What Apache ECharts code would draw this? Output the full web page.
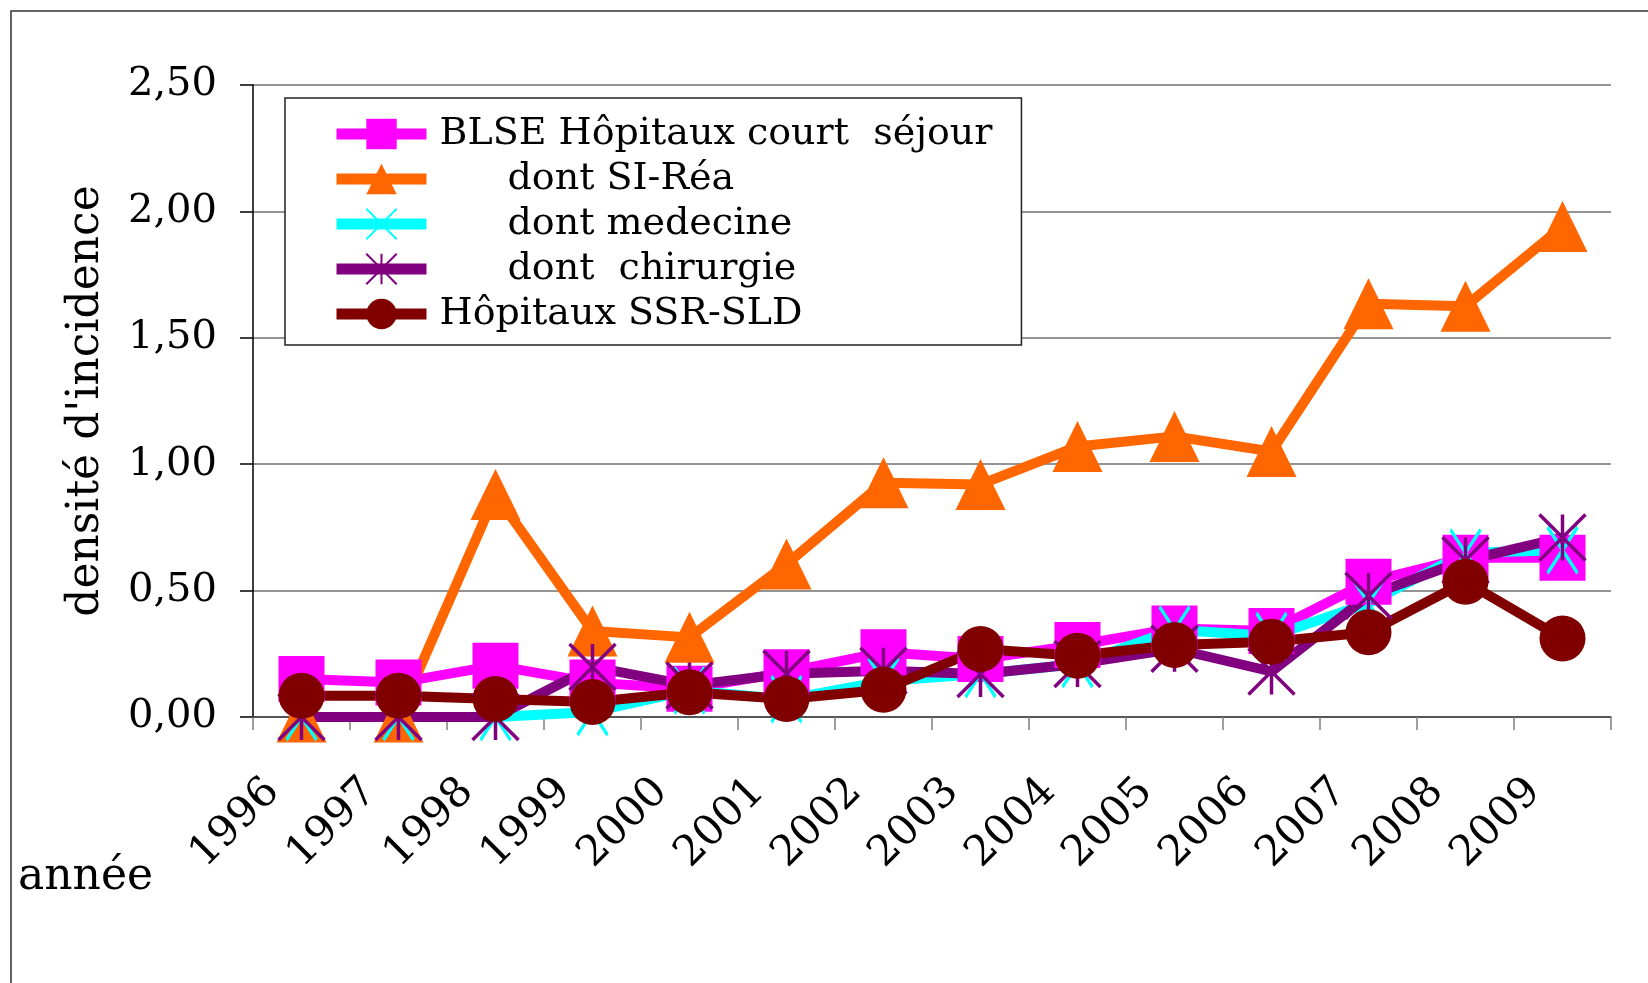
<!DOCTYPE html>
<html>
<head>
<meta charset="utf-8">
<script src="https://cdn.jsdelivr.net/npm/echarts@6/dist/echarts.min.js"></script>
<style>
  html, body { margin: 0; padding: 0; background: #fff; }
  #main { width: 1648px; height: 983px; }
</style>
</head>
<body>
<div id="main"></div>
<script type="text/javascript">
  // données
  var annees = ['1996', '1997', '1998', '1999', '2000', '2001', '2002', '2003', '2004', '2005', '2006', '2007', '2008', '2009'];
  var blseCourtSejour = [0.15, 0.136, 0.203, 0.136, 0.112, 0.177, 0.256, 0.229, 0.285, 0.35, 0.34, 0.535, 0.63, 0.63];
  var siRea = [0, 0, 0.88, 0.34, 0.315, 0.605, 0.927, 0.92, 1.07, 1.11, 1.05, 1.635, 1.625, 1.94];
  var medecine = [0, 0, 0, 0.02, 0.105, 0.07, 0.142, 0.17, 0.21, 0.345, 0.32, 0.45, 0.65, 0.66];
  var chirurgie = [0, 0, 0, 0.198, 0.125, 0.171, 0.183, 0.17, 0.21, 0.27, 0.18, 0.48, 0.62, 0.71];
  var ssrSld = [0.084, 0.084, 0.071, 0.059, 0.098, 0.071, 0.108, 0.269, 0.242, 0.285, 0.298, 0.335, 0.535, 0.311];
  var yTicks = [0, 0.5, 1, 1.5, 2, 2.5];

  var noms = ['BLSE Hôpitaux court  séjour', 'dont SI-Réa', 'dont medecine', 'dont  chirurgie', 'Hôpitaux SSR-SLD'];
  var indentes = { 'dont SI-Réa': 1, 'dont medecine': 1, 'dont  chirurgie': 1 };

  var police = 'DejaVu Serif';
  var croix = 'path://M0,0L10,10M10,0L0,10';
  var etoile = 'path://M0,0L10,10M10,0L0,10M5,0L5,10';

  var myChart = echarts.init(document.getElementById('main'));

  function serie(nom, data, couleur, symbole, taille, trait) {
    return {
      name: nom,
      type: 'line',
      data: data,
      symbol: symbole,
      symbolSize: taille,
      showAllSymbol: true,
      lineStyle: { color: couleur, width: 10 },
      itemStyle: trait
        ? { color: 'none', borderColor: couleur, borderWidth: 3.5 }
        : { color: couleur, borderWidth: 0 },
      emphasis: { disabled: true },
      animation: false
    };
  }

  var option = {
    backgroundColor: '#fff',
    textStyle: { fontFamily: police },
    grid: { left: 253, right: 37, top: 85, bottom: 266 },
    legend: {
      orient: 'vertical',
      left: 285,
      top: 98,
      data: noms,
      backgroundColor: '#fff',
      borderColor: '#222',
      borderWidth: 1.5,
      borderRadius: 0,
      padding: [17, 29, 12, 46],
      itemWidth: 90,
      itemHeight: 38,
      itemGap: 7,
      selectedMode: false,
      lineStyle: { width: 11 },
      textStyle: {
        fontFamily: police,
        fontSize: 38,
        color: '#000',
        padding: [0, 0, 0, 8],
        rich: { ind: { width: 68, fontSize: 38, fontFamily: police } }
      },
      formatter: function (nom) {
        return indentes[nom] ? '{ind| }' + nom : nom;
      }
    },
    xAxis: {
      type: 'category',
      data: annees,
      boundaryGap: true,
      axisLine: { lineStyle: { color: '#404040', width: 1.5 } },
      axisTick: { show: true, length: 13, lineStyle: { color: '#808080', width: 1.5 } },
      axisLabel: {
        rotate: 45,
        margin: 40,
        padding: [0, 40, 0, 0],
        fontFamily: police,
        fontSize: 42,
        color: '#000',
        interval: 0
      }
    },
    yAxis: {
      type: 'value',
      min: yTicks[0],
      max: yTicks[yTicks.length - 1],
      interval: 0.5,
      name: "densité d'incidence",
      nameLocation: 'middle',
      nameGap: 144,
      nameRotate: 90,
      nameTextStyle: { fontFamily: police, fontSize: 44, color: '#000' },
      axisLine: { show: true, lineStyle: { color: '#000', width: 1.5 } },
      axisTick: { show: true, length: 13, lineStyle: { color: '#000', width: 1.5 } },
      splitLine: { lineStyle: { color: '#707070', width: 1.5 } },
      axisLabel: {
        margin: 36,
        fontFamily: police,
        fontSize: 40,
        color: '#000',
        formatter: function (v) { return v.toFixed(2).replace('.', ','); }
      }
    },
    graphic: [
      {
        type: 'polyline',
        shape: { points: [[11, 1000], [11, 11], [1660, 11]] },
        style: { stroke: '#333', lineWidth: 1.5, fill: null },
        silent: true
      },
      {
        type: 'text',
        left: 18,
        top: 856,
        style: { text: 'année', font: '44px "DejaVu Serif"', fill: '#000' },
        silent: true
      }
    ],
    series: [
      serie(noms[0], blseCourtSejour, '#FF00FF', 'rect', [46, 46], false),
      serie(noms[1], siRea, '#FF6600', 'triangle', [50, 51], false),
      serie(noms[2], medecine, '#00FFFF', croix, [30, 46], true),
      serie(noms[3], chirurgie, '#800080', etoile, [46, 46], true),
      serie(noms[4], ssrSld, '#800000', 'circle', 46, false)
    ]
  };

  myChart.setOption(option);
</script>
</body>
</html>
